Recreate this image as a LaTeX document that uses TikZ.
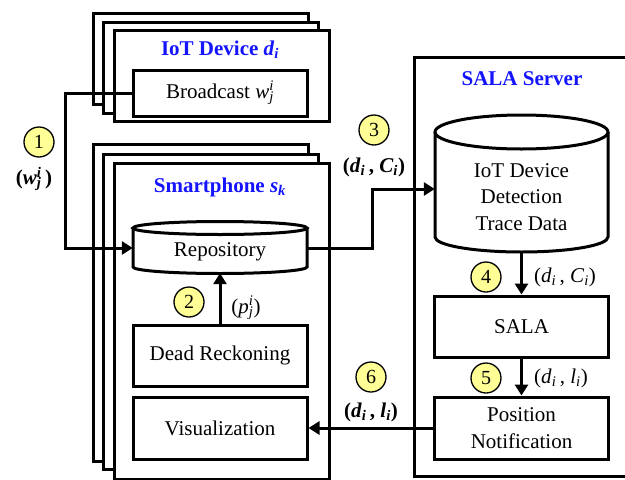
\documentclass[tikz,border=0pt]{standalone}
\usepackage{fontspec}
\setmainfont{Liberation Serif}
\usetikzlibrary{arrows.meta}
\definecolor{badge}{RGB}{255,255,150}
\definecolor{titleblue}{RGB}{20,20,255}
\newcommand\mysupsub[2]{\rlap{\textsuperscript{#1}}\textsubscript{#2}}
\newcommand\bigtext{\fontsize{21}{26.5}\selectfont}
\tikzset{
  frame/.style={draw, line width=3pt, fill=white, anchor=north west, inner sep=0pt},
  box/.style={draw, line width=3pt, fill=white, minimum width=174pt, inner sep=0pt,
    align=center, font=\bigtext},
  link/.style={line width=3pt},
  arr/.style={line width=3pt, -{Triangle[length=11pt,width=13pt]}},
  num/.style={circle, draw, line width=1.3pt, fill=badge, minimum size=30pt,
    inner sep=0pt, font=\fontsize{20}{20}\selectfont},
  title/.style={text=titleblue, font=\bigtext\bfseries, inner sep=0pt},
  lbl/.style={font=\bigtext, inner sep=0pt},
  boldlbl/.style={font=\bigtext\bfseries, inner sep=0pt},
}
\begin{document}
\begin{tikzpicture}[x=1pt, y=-1pt]
\useasboundingbox (0,0) rectangle (625,480);
\clip (0,0) rectangle (625,480);

% server frame (runs past the right edge)
\node[frame, minimum width=240pt, minimum height=419pt] (server) at (413,56) {};
\node[title] (serverTitle) at (522,79) {SALA Server};

% stacked IoT device frames
\node[frame, minimum width=215pt, minimum height=91pt] (iot3) at (92,12) {};
\node[frame, minimum width=215pt, minimum height=91pt] (iot2) at (102,21) {};
\node[frame, minimum width=215pt, minimum height=91pt] (iot1) at (113,29) {};
\node[title] (iotTitle) at (220,50) {IoT Device \textit{d}\textsubscript{\textit{i}}};
\node[box, minimum height=46pt] (bcast) at (220,93)
  {Broadcast \textit{w}\mysupsub{\textit{i}}{\textit{j}}};

% stacked smartphone frames
\node[frame, minimum width=215pt, minimum height=317pt] (sp3) at (92,143) {};
\node[frame, minimum width=215pt, minimum height=315pt] (sp2) at (102,153) {};
\node[frame, minimum width=215pt, minimum height=316pt] (sp1) at (113,162) {};
\node[title] (spTitle) at (220,187) {Smartphone \textit{s}\textsubscript{\textit{k}}};

% repository cylinder
\draw[line width=3pt, fill=white] (133,228) -- (133,267)
  arc[start angle=180, end angle=360, x radius=87pt, y radius=6.5pt] -- (307,228);
\draw[line width=3pt] (220,228) ellipse [x radius=87pt, y radius=6.5pt];
\node[lbl, minimum width=174pt, minimum height=50pt] (repo) at (220,248) {};
\node[lbl] (repoText) at (220,252) {Repository};

\node[box, minimum height=61pt] (dr) at (220,355.5) {Dead Reckoning};
\node[box, minimum height=62pt] (vis) at (220,428) {Visualization};

% trace data cylinder
\draw[line width=3pt, fill=white] (435,132) -- (435,237)
  arc[start angle=180, end angle=360, x radius=86.5pt, y radius=15pt] -- (608,132);
\draw[line width=3pt] (521.5,132) ellipse [x radius=86.5pt, y radius=17pt];
\node[lbl, minimum width=173pt, minimum height=110pt] (trace) at (521.5,197) {};
\node[lbl, align=center] (traceText) at (521.5,197) {IoT Device\\Detection\\Trace Data};

\node[box, minimum height=61pt] (sala) at (521.5,326.5) {SALA};
\node[box, minimum height=62pt] (pos) at (521.5,428) {Position\\Notification};

% connectors
\coordinate (j1) at (65,0);
\coordinate (j3) at (372,189);
\draw[arr] (bcast.west) -- (bcast.west -| j1) |- (repo.west);
\draw[arr] (dr.north) -- (repo.south);
\draw[arr] (repo.east) -| (j3) -- (j3 -| trace.west);
\draw[arr] (trace.south) -- (sala.north);
\draw[arr] (sala.south) -- (pos.north);
\draw[arr] (pos.west) -- (vis.east);

% step badges and data labels
\node[num] (n1) at (39,142) {1};
\node[boldlbl] (l1) at (34,179) {(\textit{w}\mysupsub{\textit{i}}{\textit{j}}\,)};
\node[num] (n2) at (189,302) {2};
\node[lbl] (l2) at (246,308) {(\textit{p}\mysupsub{\textit{i}}{\textit{j}})};
\node[num] (n3) at (374,130) {3};
\node[boldlbl] (l3) at (374,167) {(\textit{d}\textsubscript{\textit{i}}\,, \textit{C}\textsubscript{\textit{i}})};
\node[num] (n4) at (486,277) {4};
\node[lbl] (l4) at (565,277) {(\textit{d}\textsubscript{\textit{i}}\,, \textit{C}\textsubscript{\textit{i}})};
\node[num] (n5) at (486,378) {5};
\node[lbl] (l5) at (561,378) {(\textit{d}\textsubscript{\textit{i}}\,, \textit{l}\textsubscript{\textit{i}})};
\node[num] (n6) at (371,377) {6};
\node[boldlbl] (l6) at (371,412) {(\textit{d}\textsubscript{\textit{i}}\,, \textit{l}\textsubscript{\textit{i}})};
\end{tikzpicture}
\end{document}
